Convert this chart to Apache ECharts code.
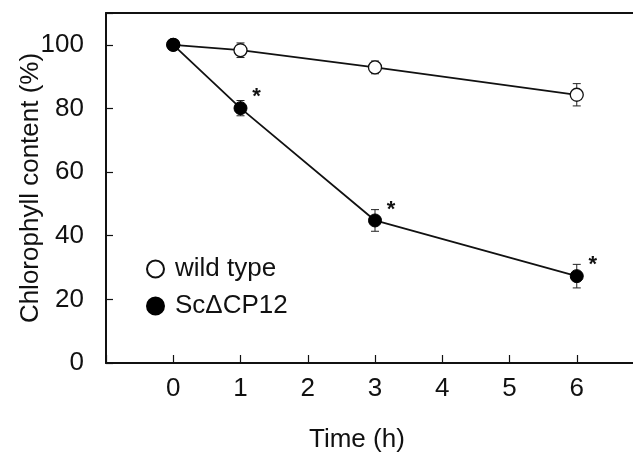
<!DOCTYPE html>
<html>
<head>
<meta charset="utf-8">
<script src="https://cdn.jsdelivr.net/npm/echarts@6/dist/echarts.min.js"></script>
<style>
  html, body { margin: 0; padding: 0; background: #fff; }
  #main { width: 633px; height: 454px; }
</style>
</head>
<body>
<div id="main"></div>
<script>
var hours = [0, 1, 3, 6];
var wildType = [100, 98.3, 92.9, 84.3];
var wildTypeErr = [0, 2.3, 2.0, 3.5];
var mutant = [100, 80.1, 44.8, 27.3];
var mutantErr = [0, 2.4, 3.4, 3.7];
var mutantSig = ['', '*', '*', '*'];
var xTicks = [0, 1, 2, 3, 4, 5, 6];
var font = 'Liberation Sans, Arial, Helvetica, sans-serif';

var chartDom = document.getElementById('main');
var myChart = echarts.init(chartDom);

function pairs(vals) {
  return hours.map(function (h, i) { return [h, vals[i]]; });
}
function errData(vals, errs) {
  return hours.map(function (h, i) { return [h, vals[i] - errs[i], vals[i] + errs[i]]; });
}
function errBars(params, api) {
  if (api.value(2) - api.value(1) === 0) return;
  var lo = api.coord([api.value(0), api.value(1)]);
  var hi = api.coord([api.value(0), api.value(2)]);
  var w = 4;
  var st = { stroke: '#222', lineWidth: 1 };
  return {
    type: 'group',
    children: [
      { type: 'line', shape: { x1: lo[0], y1: lo[1], x2: hi[0], y2: hi[1] }, style: st },
      { type: 'line', shape: { x1: lo[0] - w, y1: lo[1], x2: lo[0] + w, y2: lo[1] }, style: st },
      { type: 'line', shape: { x1: hi[0] - w, y1: hi[1], x2: hi[0] + w, y2: hi[1] }, style: st }
    ]
  };
}

var option = {
  animation: false,
  backgroundColor: '#fff',
  textStyle: { fontFamily: font },
  title: {
    text: 'Time (h)',
    left: 304,
    top: 422,
    textStyle: { fontFamily: font, fontSize: 26, fontWeight: 'normal', color: '#111' }
  },
  grid: { left: 106, right: -11, top: 13, bottom: 91, outerBoundsMode: 'none' },
  legend: {
    orient: 'vertical',
    left: 141,
    top: 251,
    itemGap: 11,
    itemWidth: 17,
    itemHeight: 17,
    data: [
      { name: 'wild type', icon: 'circle' },
      { name: 'ScΔCP12', icon: 'circle' }
    ],
    textStyle: { fontFamily: font, fontSize: 26, color: '#111', padding: [0, 0, 0, 6] }
  },
  xAxis: [
    {
      type: 'value',
      min: -1,
      max: 7,
      interval: 1,
      axisLine: { onZero: false, lineStyle: { color: '#111', width: 2 } },
      axisTick: { inside: true, length: 8, lineStyle: { color: '#111', width: 1.2 } },
      splitLine: { show: false },
      axisLabel: {
        fontSize: 26,
        color: '#111',
        margin: 13,
        formatter: function (v) { return xTicks.indexOf(v) >= 0 ? String(v) : ''; }
      }
    },
    {
      type: 'value',
      position: 'top',
      min: -1,
      max: 7,
      axisLine: { show: true, onZero: false, lineStyle: { color: '#111', width: 2 } },
      axisTick: { show: false },
      axisLabel: { show: false },
      splitLine: { show: false }
    }
  ],
  yAxis: {
    type: 'value',
    min: 0,
    max: 110,
    interval: 20,
    name: 'Chlorophyll content (%)',
    nameLocation: 'middle',
    nameGap: 62,
    nameMoveOverlap: false,
    nameTextStyle: { fontFamily: font, fontSize: 26, color: '#111' },
    axisLine: { show: true, onZero: false, lineStyle: { color: '#111', width: 2 } },
    axisTick: { inside: true, length: 7, lineStyle: { color: '#111', width: 1.2 } },
    splitLine: { show: false },
    axisLabel: {
      fontSize: 26,
      color: '#111',
      margin: 22,
      formatter: function (v) { return v > 100 ? '' : String(v); }
    }
  },
  series: [
    {
      type: 'custom',
      name: 'wtErr',
      renderItem: errBars,
      data: errData(wildType, wildTypeErr),
      z: 1,
      silent: true
    },
    {
      type: 'custom',
      name: 'mutErr',
      renderItem: errBars,
      data: errData(mutant, mutantErr),
      z: 1,
      silent: true
    },
    {
      name: 'wild type',
      type: 'line',
      data: pairs(wildType),
      symbol: 'circle',
      symbolSize: 13,
      lineStyle: { color: '#111', width: 1.8 },
      itemStyle: { color: '#fff', borderColor: '#111', borderWidth: 1.3 },
      z: 3
    },
    {
      name: 'ScΔCP12',
      type: 'line',
      data: pairs(mutant),
      symbol: 'circle',
      symbolSize: 13,
      lineStyle: { color: '#111', width: 1.8 },
      itemStyle: { color: '#000', borderColor: '#000', borderWidth: 1 },
      label: {
        show: true,
        position: 'top',
        offset: [16, 12],
        fontSize: 22,
        fontWeight: 'bold',
        color: '#111',
        formatter: function (p) { return mutantSig[p.dataIndex]; }
      },
      z: 4
    }
  ]
};

myChart.setOption(option);
</script>
</body>
</html>
